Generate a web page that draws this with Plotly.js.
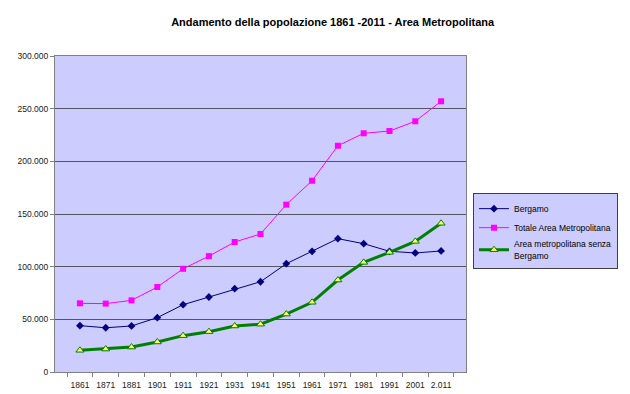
<!DOCTYPE html>
<html>
<head>
<meta charset="utf-8">
<script src="https://cdn.plot.ly/plotly-3.0.1.min.js"></script>
<style>html,body{margin:0;padding:0;background:#fff;}#chart{width:630px;height:394px;}</style>
</head>
<body>
<div id="chart"></div>
<script>
const years = ["1861","1871","1881","1901","1911","1921","1931","1941","1951","1961","1971","1981","1991","2001","2.011"];
const bergamo = [44000, 42000, 43700, 51600, 63900, 71200, 79100, 85700, 102800, 114600, 126600, 121800, 114600, 113000, 114900];
const totale = [65200, 64900, 68000, 80700, 98000, 110000, 123400, 131000, 158900, 181600, 214800, 226600, 228800, 238000, 257000];
const senza = [20600, 21800, 23700, 28500, 34500, 38300, 43700, 45400, 55000, 66200, 87300, 104100, 113600, 124000, 141200];
const yTicks = [0, 50000, 100000, 150000, 200000, 250000, 300000];

const traces = [
  {x: years, y: bergamo, name: "Bergamo", type: "scatter", mode: "lines+markers",
   line: {color: "#000080", width: 1}, marker: {symbol: "diamond", size: 6, color: "#000080"}},
  {x: years, y: totale, name: "Totale Area Metropolitana", type: "scatter", mode: "lines+markers",
   line: {color: "#FF00FF", width: 1}, marker: {symbol: "square", size: 6, color: "#FF00FF"}},
  {x: years, y: senza, name: "Area metropolitana senza<br>Bergamo", type: "scatter", mode: "lines+markers",
   line: {color: "#008000", width: 3}, marker: {symbol: "triangle-up", size: 7, color: "#FFFF66", line: {color: "#008000", width: 1}}}
];

const layout = {
  width: 630, height: 394,
  margin: {l: 55, r: 158, t: 56, b: 22},
  paper_bgcolor: "#FFFFFF",
  plot_bgcolor: "#CCCCFF",
  separators: ",.",
  font: {family: "Liberation Sans, Arial, sans-serif", size: 9, color: "#000000"},
  title: {text: "<b>Andamento della popolazione 1861 -2011 - Area Metropolitana</b>",
          font: {size: 11, color: "#000000"}, xref: "container", x: 0.528, xanchor: "center", y: 0.945, yanchor: "middle"},
  xaxis: {type: "category", tickson: "boundaries", ticks: "outside", ticklen: 4, tickcolor: "#808080",
          tickangle: 0, ticklabelstandoff: 5, showline: true, linecolor: "#808080", mirror: true, showgrid: false,
          tickfont: {size: 8.5, color: "#202020"}, fixedrange: true},
  yaxis: {range: [0, 300000], tickvals: yTicks, tickformat: ",d", ticks: "outside", ticklen: 4,
          tickcolor: "#808080", showline: true, linecolor: "#808080", mirror: true,
          showgrid: true, gridcolor: "#555560", gridwidth: 1, zeroline: false,
          tickfont: {size: 8.5, color: "#202020"}, fixedrange: true},
  showlegend: true,
  legend: {x: 1.017, y: 0.566, xanchor: "left", yanchor: "top", bgcolor: "#CCCCFF",
           bordercolor: "#404040", borderwidth: 1, font: {size: 8.5, color: "#000000"},
           itemwidth: 30, tracegroupgap: 3}
};

Plotly.newPlot("chart", traces, layout, {displayModeBar: false, staticPlot: true});
</script>
</body>
</html>
